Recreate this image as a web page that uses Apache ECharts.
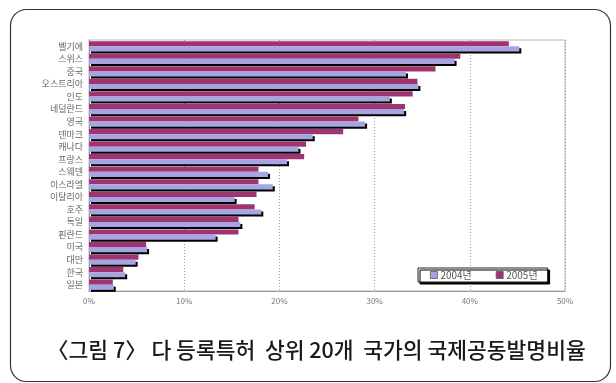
<!DOCTYPE html>
<html>
<head>
<meta charset="utf-8">
<script src="https://cdn.jsdelivr.net/npm/echarts@6/dist/echarts.min.js"></script>
<style>
  html, body { margin: 0; padding: 0; background: #fff; }
  #chart { width: 616px; height: 383px; }
</style>
</head>
<body>
<div id="chart"></div>
<script>
// 국가별 국제공동발명 비율 (%)
const countries = ['벨기에', '스위스', '중국', '오스트리아', '인도', '네덜란드', '영국', '덴마크', '캐나다', '프랑스',
  '스웨덴', '이스라엘', '이탈리아', '호주', '독일', '핀란드', '미국', '대만', '한국', '일본'];
const share2004 = [45.2, 38.4, 33.3, 34.6, 31.6, 33.1, 29.0, 23.5, 22.0, 20.8,
  18.8, 19.3, 15.3, 18.1, 15.9, 13.3, 6.1, 4.9, 3.8, 2.6];
const share2005 = [44.1, 39.0, 36.4, 34.5, 34.0, 33.2, 28.3, 26.7, 22.8, 22.6,
  17.8, 17.8, 17.6, 17.4, 15.7, 15.7, 6.0, 5.2, 3.6, 2.5];
const seriesNames = ['2004년', '2005년'];
const xTicks = [0, 10, 20, 30, 40, 50];
const caption = '〈그림 7〉 다 등록특허  상위 20개  국가의 국제공동발명비율';

const chart = echarts.init(document.getElementById('chart'), null, { renderer: 'canvas' });
const font = '"Noto Sans CJK KR", "Noto Sans", sans-serif';

chart.setOption({
  animation: false,
  textStyle: { fontFamily: font },
  grid: { left: 89, right: 51, top: 40, bottom: 92, show: true, borderColor: '#b8b8b8', borderWidth: 1, backgroundColor: 'transparent' },
  xAxis: {
    type: 'value',
    min: xTicks[0],
    max: xTicks[xTicks.length - 1],
    interval: 10,
    axisLine: { show: true, lineStyle: { color: '#999' } },
    axisTick: { show: false },
    axisLabel: { color: '#777', fontSize: 8, margin: 6, formatter: v => v + '%' },
    splitLine: { show: true, lineStyle: { color: '#999', type: [1, 2], width: 1 } }
  },
  yAxis: {
    type: 'category',
    inverse: true,
    data: countries,
    axisLine: { show: true, lineStyle: { color: '#999' } },
    axisTick: { show: false },
    axisLabel: { color: '#666', fontSize: 9, margin: 6 }
  },
  legend: {
    left: 418, top: 268,
    icon: 'rect',
    itemWidth: 7, itemHeight: 7, itemGap: 24,
    padding: [2, 10, 2, 12],
    borderColor: '#222', borderWidth: 1,
    backgroundColor: '#fff',
    shadowColor: '#000', shadowOffsetX: 2, shadowOffsetY: 2, shadowBlur: 0,
    itemStyle: { borderColor: '#555', borderWidth: 0.8 },
    textStyle: { fontSize: 10, color: '#555', padding: [0, 0, 0, -2] },
    data: seriesNames
  },
  series: [
    {
      name: seriesNames[1], type: 'bar', data: share2005,
      barGap: '0%', barCategoryGap: '18%',
      itemStyle: { color: '#a03470' }
    },
    {
      name: seriesNames[0], type: 'bar', data: share2004,
      barGap: '0%', barCategoryGap: '18%',
      itemStyle: { color: '#a6a5e2', shadowColor: '#000', shadowOffsetX: 2, shadowOffsetY: 2, shadowBlur: 0 }
    }
  ],
  graphic: [
    {
      type: 'rect', left: 8, top: 7,
      shape: { width: 600, height: 372, r: 16 },
      style: { fill: 'none', stroke: '#333', lineWidth: 1.2 },
      silent: true
    },
    {
      type: 'text', left: 47, top: 339,
      style: { text: caption, fontFamily: font, fontSize: 21.5, fontWeight: 500, fill: '#1a1a1a' }
    }
  ]
});
</script>
</body>
</html>
